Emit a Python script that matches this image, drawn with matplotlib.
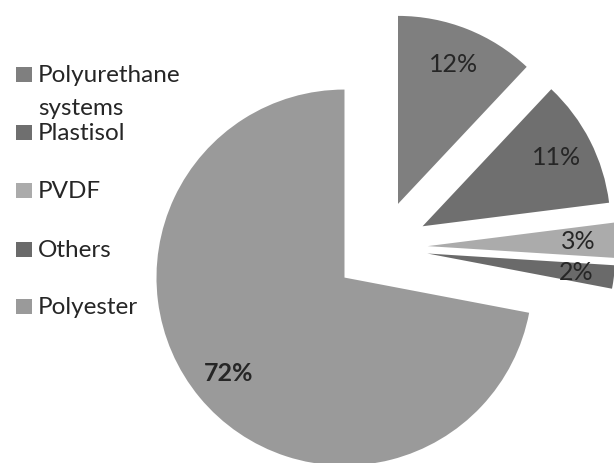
import matplotlib
matplotlib.use("Agg")
import matplotlib.pyplot as plt
from matplotlib.patches import Rectangle

categories = ["Polyurethane\nsystems", "Plastisol", "PVDF", "Others", "Polyester"]
values = [12, 11, 3, 2, 72]
colors = ["#7f7f7f", "#6f6f6f", "#ababab", "#6a6a6a", "#9a9a9a"]

W, H = 614, 463
fig = plt.figure(figsize=(W / 100, H / 100), dpi=100)
ax = fig.add_axes([0, 0, 1, 1])

cx, cy, R = 380.7, 247.6, 188.0
FONT = "Lato"

wedges, texts, autotexts = ax.pie(
    values, colors=colors, startangle=90, counterclock=False,
    explode=[0.25] * len(values), radius=1.0, autopct="%d%%",
    pctdistance=0.8, wedgeprops=dict(linewidth=0),
    textprops=dict(family=FONT, fontsize=18, color="#262626"))
ax.set_xlim(-cx / R, (W - cx) / R)
ax.set_ylim(-(H - cy) / R, cy / R)
ax.set_aspect("auto")
ax.axis("off")
autotexts[-1].set_fontweight("bold")

# legend
ys = [74, 132, 190, 249, 306]
for lab, col, y in zip(categories, colors, ys):
    fig.patches.append(Rectangle((16 / W, 1 - (y + 7.5) / H), 16 / W, 15 / H,
                                 transform=fig.transFigure, facecolor=col,
                                 edgecolor="none"))
    for i, line in enumerate(lab.split("\n")):
        fig.text(38 / W, 1 - (y + 8 + 33 * i) / H, line, ha="left", va="baseline",
                 family=FONT, fontsize=17.5, color="#262626")

fig.savefig("out.png", dpi=100)
